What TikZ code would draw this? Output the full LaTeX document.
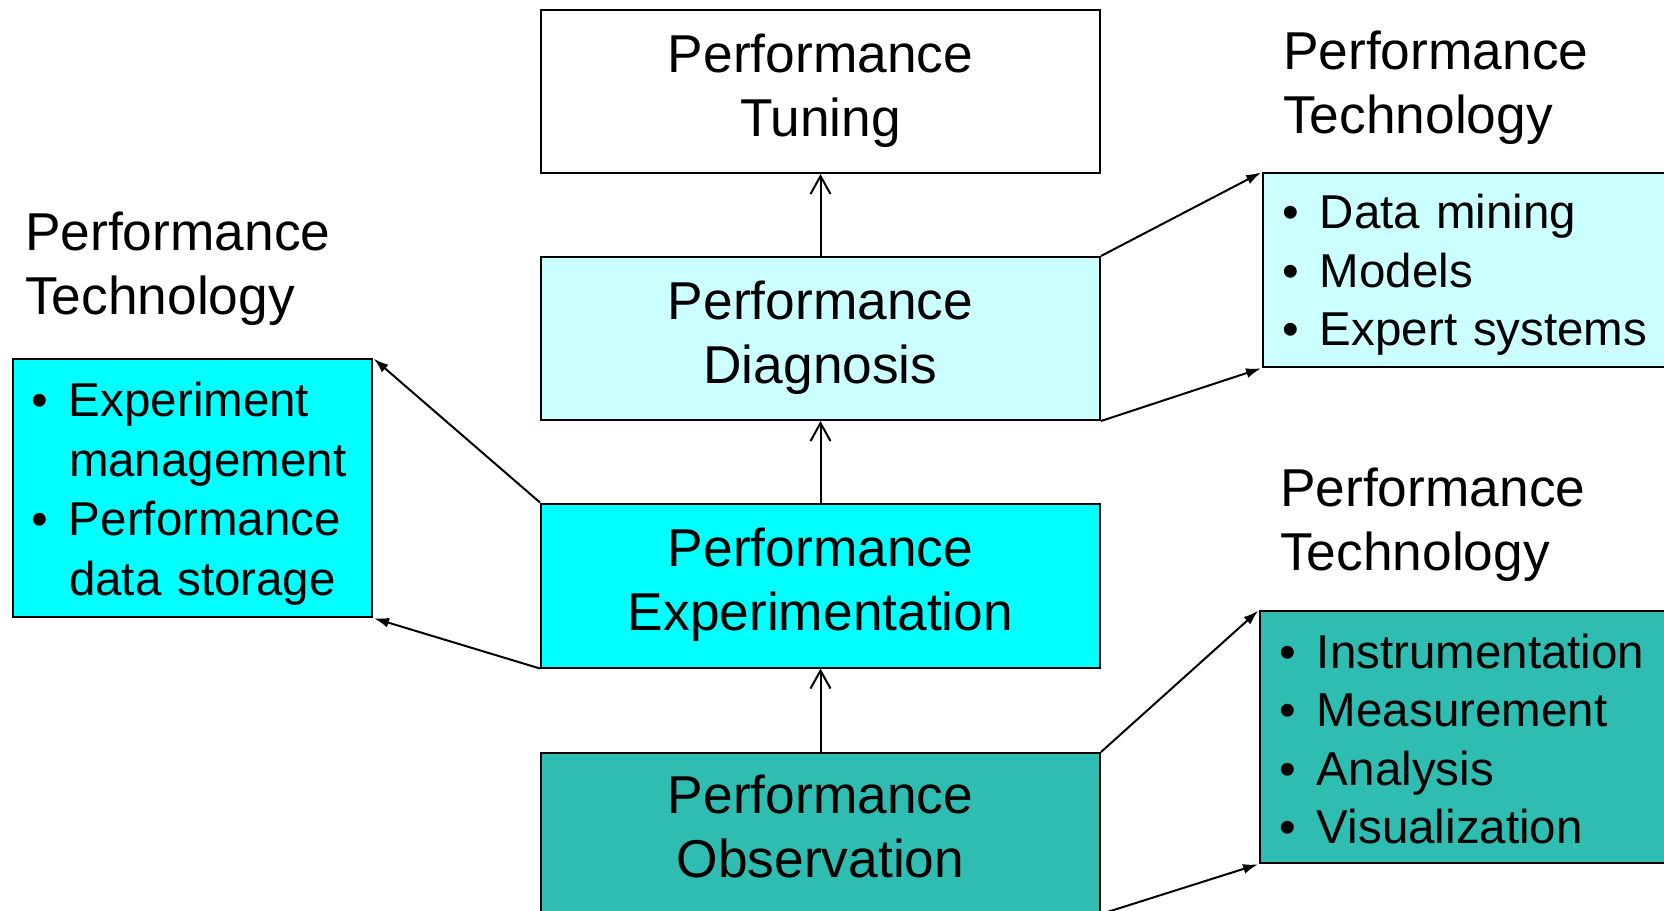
\documentclass[tikz,border=0pt]{standalone}
\usepackage{fontspec}
\setmainfont{Liberation Sans}
\usetikzlibrary{arrows.meta}
\definecolor{lcyan}{RGB}{204,255,255}
\definecolor{cyanfill}{RGB}{0,255,255}
\definecolor{tealfill}{RGB}{46,189,176}
\newcommand{\bigfont}{\fontsize{53.3}{64}\selectfont}
\newcommand{\listfont}{\fontsize{47.5}{58.5}\selectfont}
\newcommand{\leftlistfont}{\fontsize{47.5}{59.5}\selectfont}
\newcommand{\bul}{\makebox[38pt][l]{•}}
\newcommand{\ind}{\hspace*{38pt}}
\newcommand{\toprule}[1]{\rule{0pt}{#1pt}}
\begin{document}
\begin{tikzpicture}[x=1pt,y=-1pt,
  mainbox/.style={draw, line width=2pt, minimum width=559pt, minimum height=163pt,
    anchor=north west, align=center, font=\bigfont, inner sep=0pt},
  listbox/.style={draw, line width=2pt, anchor=north west, align=left,
    font=\listfont, inner xsep=21pt, inner ysep=0pt},
  techlabel/.style={anchor=north west, align=left, font=\bigfont, inner sep=0pt},
  varrow/.style={line width=2pt, -{Straight Barb[length=18pt,width=20pt]}},
  darrow/.style={line width=2pt, -{Latex[length=15pt,width=10pt]}, shorten >=1pt}
]
\useasboundingbox (0,0) rectangle (1664,910);
\clip (0,0) rectangle (1664,910);

\node[mainbox, fill=white]    (tune) at (540,9)   {\strut Performance\\\strut Tuning};
\node[mainbox, fill=lcyan]    (diag) at (540,256) {\strut Performance\\\strut Diagnosis};
\node[mainbox, fill=cyanfill, minimum height=164pt] (expm) at (540,502.5) {\strut Performance\\\strut Experimentation};
\node[mainbox, fill=tealfill, minimum height=160pt] (obs)  at (540,752) {\strut Performance\\\strut Observation};

\node[listbox, fill=cyanfill, font=\leftlistfont, inner xsep=18pt, minimum width=359pt, minimum height=258pt, text width=323pt] (lb) at (12,358)
  {\toprule{45.5}\bul Experiment\\\ind management\\\bul Performance\\\ind data~storage};
\node[listbox, fill=lcyan, inner xsep=19pt, minimum width=450pt, minimum height=194pt, text width=412pt] (rt) at (1262,172)
  {\toprule{44.5}\bul Data~mining\\\bul Models\\\bul Expert~systems};
\node[listbox, fill=tealfill, inner xsep=19pt, minimum width=450pt, minimum height=252pt, text width=412pt] (rb) at (1259,610)
  {\toprule{38}\bul Instrumentation\\\bul Measurement\\\bul Analysis\\\bul Visualization};

\node[techlabel] (lt1) at (1283,24)  {\strut Performance\\Technology};
\node[techlabel] (lt2) at (25,205)   {\strut Performance\\Technology};
\node[techlabel] (lt3) at (1280,461) {\strut Performance\\Technology};

\draw[varrow] (diag.north) -- (tune.south);
\draw[varrow] (expm.north) -- (diag.south);
\draw[varrow] (obs.north) -- (expm.south);

\draw[darrow] (diag.north east) -- (rt.north west);
\draw[darrow] (diag.south east) -- (rt.south west);
\draw[darrow] (expm.north west) -- (lb.north east);
\draw[darrow] (expm.south west) -- (lb.south east);
\draw[darrow] (obs.north east) -- (rb.north west);
\draw[darrow] (obs.south east) -- (rb.south west);
\end{tikzpicture}
\end{document}
